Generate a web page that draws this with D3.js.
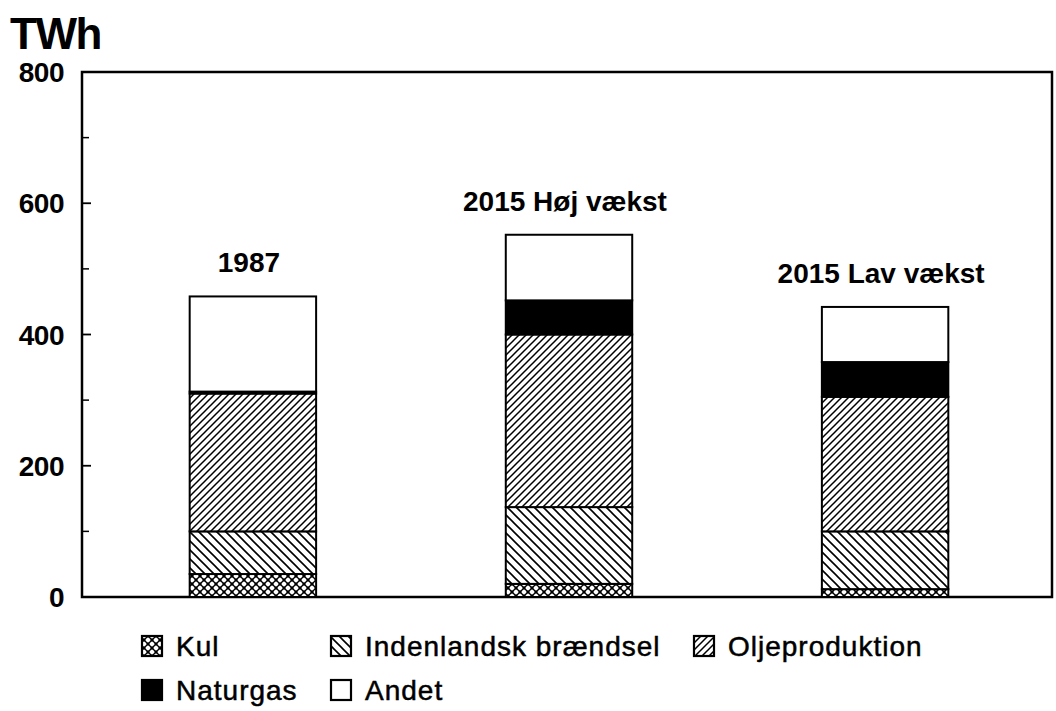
<!DOCTYPE html>
<head>
<meta charset="utf-8">
<title>TWh</title>
<script src="https://cdn.jsdelivr.net/npm/d3@7/dist/d3.min.js"></script>
<style>
  body { margin: 0; background: #fff; }
</style>
</head>
<body>
<div id="chart"></div>
<script>

// data (TWh)
const categories = ["1987", "2015 Høj vækst", "2015 Lav vækst"];
const seriesNames = ["Kul", "Indenlandsk brændsel", "Oljeproduktion", "Naturgas", "Andet"];
const kul         = [35, 20, 12];
const indenlandsk = [65, 117, 88];
const olje        = [210, 263, 205];
const naturgas    = [3, 52, 53];
const andet       = [145, 100, 84];
const yTicks = [0, 200, 400, 600, 800];

const W = 1056, H = 711;
const margin = {left: 82, top: 72, right: 4, bottom: 114};

function CreateSVG(){
  return d3.select("#chart").append("svg")
    .attr("width", W)
    .attr("height", H)
    .attr("font-family", "'Liberation Sans', Arial, sans-serif");
}

function makePatterns(svg){
  const defs = svg.append("defs");

  // Kul: little rings
  const p1 = defs.append("pattern").attr("id", "kul")
    .attr("patternUnits", "userSpaceOnUse").attr("width", 8).attr("height", 8);
  p1.append("rect").attr("width", 8).attr("height", 8).attr("fill", "#fff");
  p1.append("path").attr("d", "M0,0L8,8M8,0L0,8").attr("stroke", "#000").attr("stroke-width", 1.7);
  [[4, 0], [0, 4], [8, 4], [4, 8]].forEach(c => {
    p1.append("circle").attr("cx", c[0]).attr("cy", c[1]).attr("r", 2)
      .attr("fill", "#fff");
  });

  // Indenlandsk: "\" hatch
  const p2 = defs.append("pattern").attr("id", "inden")
    .attr("patternUnits", "userSpaceOnUse").attr("width", 9).attr("height", 9);
  p2.append("rect").attr("width", 9).attr("height", 9).attr("fill", "#fff");
  p2.append("path").attr("d", "M-2,-2L11,11M-2,7L2,11M7,-2L11,2")
    .attr("stroke", "#000").attr("stroke-width", 1.6);

  // Olje: "/" hatch
  const p3 = defs.append("pattern").attr("id", "olje")
    .attr("patternUnits", "userSpaceOnUse").attr("width", 7).attr("height", 7);
  p3.append("rect").attr("width", 7).attr("height", 7).attr("fill", "#fff");
  p3.append("path").attr("d", "M-2,9L9,-2M-2,2L2,-2M5,9L9,5")
    .attr("stroke", "#000").attr("stroke-width", 1.5);
}

const fills = ["url(#kul)", "url(#inden)", "url(#olje)", "#000", "#fff"];

function drawChart(svg){
  const x = d3.scaleBand()
    .domain(categories)
    .range([86, W - margin.right])
    .paddingInner(0.6)
    .paddingOuter(0.328);

  const y = d3.scaleLinear()
    .domain([0, 800])
    .range([H - margin.bottom, margin.top]);

  const rows = categories.map((c, i) => ({
    cat: c,
    "Kul": kul[i],
    "Indenlandsk brændsel": indenlandsk[i],
    "Oljeproduktion": olje[i],
    "Naturgas": naturgas[i],
    "Andet": andet[i]
  }));
  const stacked = d3.stack().keys(seriesNames)(rows);

  // frame
  svg.append("rect")
    .attr("x", margin.left).attr("y", y(800))
    .attr("width", W - margin.right - margin.left)
    .attr("height", y(0) - y(800))
    .attr("fill", "none").attr("stroke", "#000").attr("stroke-width", 2.5);

  // y ticks, pointing in
  const minor = d3.range(100, 800, 200);
  svg.selectAll(".minor").data(minor).join("line")
    .attr("x1", margin.left).attr("x2", margin.left + 7)
    .attr("y1", d => y(d)).attr("y2", d => y(d))
    .attr("stroke", "#000").attr("stroke-width", 1.5);
  svg.selectAll(".major").data(yTicks.slice(1, 4)).join("line")
    .attr("x1", margin.left).attr("x2", margin.left + 9)
    .attr("y1", d => y(d)).attr("y2", d => y(d))
    .attr("stroke", "#000").attr("stroke-width", 1.8);

  svg.selectAll(".ylab").data(yTicks).join("text")
    .attr("x", 64).attr("y", d => y(d) + 10)
    .attr("text-anchor", "end")
    .attr("font-size", 28).attr("font-weight", "bold")
    .attr("letter-spacing", -0.5)
    .text(d => d);

  svg.append("text")
    .attr("x", 10).attr("y", 49)
    .attr("font-size", 44).attr("font-weight", "bold")
    .attr("letter-spacing", -1.5)
    .text("TWh");

  // bars
  stacked.forEach((s, k) => {
    svg.append("g").selectAll("rect")
      .data(s)
      .join("rect")
        .attr("x", d => x(d.data.cat))
        .attr("y", d => y(d[1]))
        .attr("width", x.bandwidth())
        .attr("height", d => y(d[0]) - y(d[1]))
        .attr("fill", fills[k])
        .attr("stroke", "#000")
        .attr("stroke-width", 2);
  });

  // bar labels
  const totals = categories.map((c, i) => kul[i] + indenlandsk[i] + olje[i] + naturgas[i] + andet[i]);
  svg.selectAll(".blab").data(categories).join("text")
    .attr("x", d => x(d) + x.bandwidth() / 2 - 4)
    .attr("y", (d, i) => y(totals[i]) - 24)
    .attr("text-anchor", "middle")
    .attr("font-size", 28).attr("font-weight", "bold")
    .text(d => d);

  // legend
  const legendPos = [[142, 646], [331, 646], [694, 646], [142, 690], [331, 690]];
  seriesNames.forEach((name, k) => {
    const p = legendPos[k];
    svg.append("rect")
      .attr("x", p[0]).attr("y", p[1] - 10)
      .attr("width", 20).attr("height", 20)
      .attr("fill", fills[k]).attr("stroke", "#000").attr("stroke-width", 2.2);
    svg.append("text")
      .attr("x", p[0] + 34).attr("y", p[1] + 10)
      .attr("font-size", 28)
      .attr("letter-spacing", 1)
      .attr("stroke", "#000").attr("stroke-width", 0.5)
      .text(name);
  });
}

let svg = CreateSVG();
makePatterns(svg);
drawChart(svg);

</script>
</body>
</html>
